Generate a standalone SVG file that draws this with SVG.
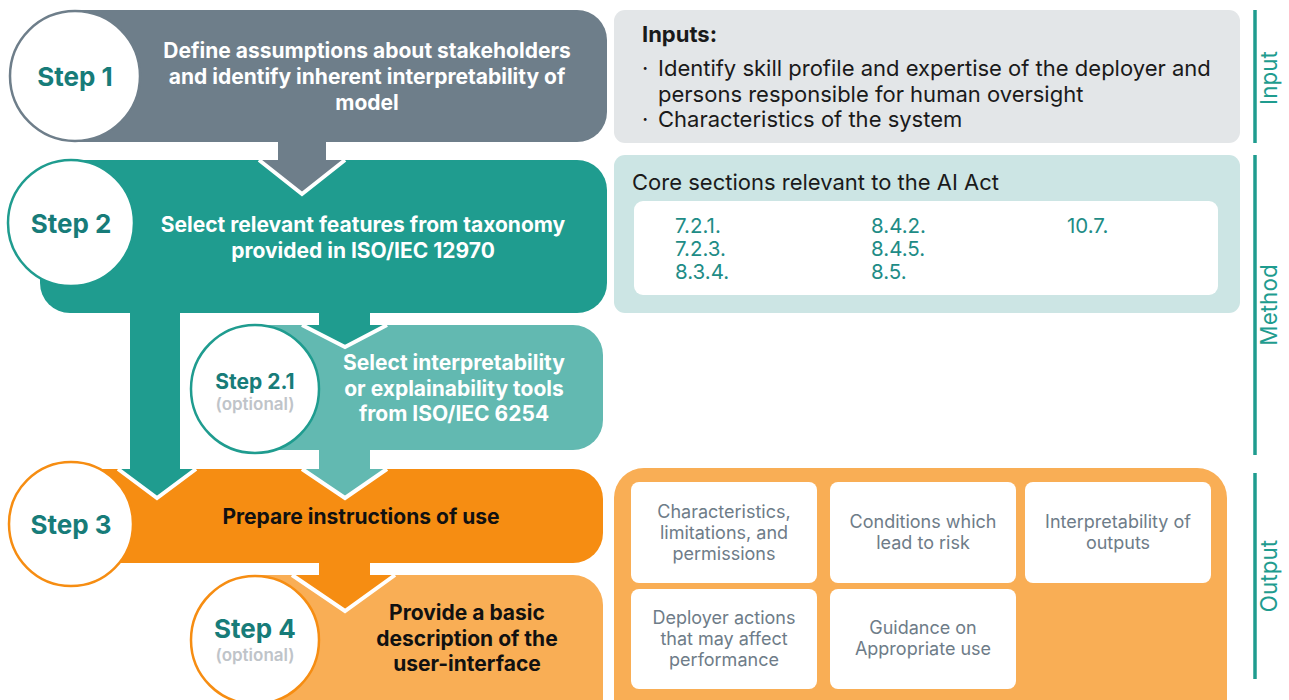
<svg xmlns="http://www.w3.org/2000/svg" width="1289" height="700" viewBox="0 0 1289 700">
<style>
.step{font-family:Inter,"Noto Sans",sans-serif;font-weight:700;fill:#177C79;text-anchor:middle}
.opt{font-family:Inter,"Noto Sans",sans-serif;font-weight:600;fill:#BFC4C9;text-anchor:middle;font-size:17px}
.bt{font-family:Inter,"Noto Sans",sans-serif;font-weight:700;font-size:21px;text-anchor:middle}
.w{fill:#ffffff}
.k{fill:#111111}
.rt{font-family:Inter,"Noto Sans",sans-serif;font-size:22px;fill:#1a1a1a}
.num{font-family:Inter,"Noto Sans",sans-serif;font-size:20.5px;fill:#1E8C86}
.card{fill:#ffffff}
.ct{font-family:Inter,"Noto Sans",sans-serif;font-size:18px;fill:#6E7C88;text-anchor:middle}
.lab{font-family:Inter,"Noto Sans",sans-serif;font-size:22.5px;fill:#1F9C8F;text-anchor:middle}
.vline{stroke:#1F9C8F;stroke-width:3.5}
.vee{fill:none;stroke:#ffffff;stroke-width:4;stroke-linejoin:miter}
</style>

<g id="step1-box"><path d="M75 10 H577 A30 30 0 0 1 607 40 V112 A30 30 0 0 1 577 142 H75 Z" fill="#6E7E8A"/>
<text class="bt w" x="367" y="58">Define assumptions about stakeholders</text>
<text class="bt w" x="367" y="84">and identify inherent interpretability of</text>
<text class="bt w" x="367" y="110">model</text></g>

<g id="step2-box"><rect x="40" y="160" width="567" height="153" rx="30" fill="#1F9C8F"/>
<text class="bt w" x="363" y="232">Select relevant features from taxonomy</text>
<text class="bt w" x="363" y="258">provided in ISO/IEC 12970</text></g>

<g id="step21-box"><path d="M262 325 H573 A30 30 0 0 1 603 355 V420 A30 30 0 0 1 573 450 H262 Z" fill="#62B9B1"/>
<text class="bt w" x="454" y="370">Select interpretability</text>
<text class="bt w" x="454" y="396">or explainability tools</text>
<text class="bt w" x="454" y="421">from ISO/IEC 6254</text></g>

<g id="step3-box"><path d="M71 469 H573 A30 30 0 0 1 603 499 V533 A30 30 0 0 1 573 563 H71 Z" fill="#F68D12"/>
<text class="bt k" x="361" y="524">Prepare instructions of use</text></g>

<g id="step4-box"><path d="M255 575 H573 A30 30 0 0 1 603 605 V700 H255 Z" fill="#F9AE55"/>
<text class="bt k" x="467" y="620">Provide a basic</text>
<text class="bt k" x="467" y="646">description of the</text>
<text class="bt k" x="467" y="671">user-interface</text></g>

<g id="connectors">
<rect x="278" y="140" width="48" height="21" fill="#6E7E8A"/>
<polygon points="260,160 344,160 302,193" fill="#6E7E8A"/>
<polyline class="vee" points="259,160 302,194 345,160"/>

<rect x="319" y="311" width="51" height="15" fill="#1F9C8F"/>
<polygon points="304,325 385,325 345,346" fill="#1F9C8F"/>
<polyline class="vee" points="302,325 345,347 387,325"/>

<rect x="130" y="311" width="50" height="159" fill="#1F9C8F"/>
<polygon points="120,469 194,469 157,497" fill="#1F9C8F"/>
<polyline class="vee" points="118,469 157,498 196,469"/>

<rect x="319" y="448" width="51" height="22" fill="#62B9B1"/>
<polygon points="304,469 385,469 345,497" fill="#62B9B1"/>
<polyline class="vee" points="302,469 345,498 387,469"/>

<rect x="319" y="561" width="51" height="15" fill="#F68D12"/>
<polygon points="294,575 393,575 345,610" fill="#F68D12"/>
<polyline class="vee" points="292,575 345,611 395,575"/>
</g>

<g id="step1"><circle cx="75" cy="76" r="65" fill="#ffffff" stroke="#6E7E8A" stroke-width="2.5"/>
<text class="step" x="75" y="86" font-size="26">Step 1</text></g>
<g id="step2"><circle cx="71" cy="223" r="63" fill="#ffffff" stroke="#1F9C8F" stroke-width="2.5"/>
<text class="step" x="71" y="233" font-size="26">Step 2</text></g>
<g id="step21"><circle cx="255" cy="389" r="64" fill="#ffffff" stroke="#1F9C8F" stroke-width="2.5"/>
<text class="step" x="255" y="389" font-size="21">Step 2.1</text>
<text class="opt" x="255" y="410">(optional)</text></g>
<g id="step3"><circle cx="71" cy="524" r="62" fill="#ffffff" stroke="#F68D12" stroke-width="2.5"/>
<text class="step" x="71" y="534" font-size="26">Step 3</text></g>
<g id="step4"><circle cx="255" cy="640" r="64" fill="#ffffff" stroke="#F68D12" stroke-width="2.5"/>
<text class="step" x="255" y="638" font-size="26">Step 4</text>
<text class="opt" x="255" y="661" font-size="19">(optional)</text></g>

<g id="input-panel"><rect x="614" y="10" width="626" height="133" rx="11" fill="#E3E6E8"/>
<text class="rt" x="642" y="42" font-weight="700" font-size="19.5">Inputs:</text>
<text class="rt" x="642" y="76">·</text>
<text class="rt" x="658" y="76">Identify skill profile and expertise of the deployer and</text>
<text class="rt" x="658" y="102">persons responsible for human oversight</text>
<text class="rt" x="642" y="127">·</text>
<text class="rt" x="658" y="127">Characteristics of the system</text></g>

<g id="method-panel"><rect x="614" y="155" width="626" height="158" rx="11" fill="#CCE5E4"/>
<text class="rt" x="632" y="190" font-size="21.5">Core sections relevant to the AI Act</text>
<rect x="634" y="201" width="584" height="94" rx="9" fill="#ffffff"/>
<text class="num" x="675" y="233">7.2.1.</text>
<text class="num" x="675" y="256">7.2.3.</text>
<text class="num" x="675" y="279">8.3.4.</text>
<text class="num" x="871" y="233">8.4.2.</text>
<text class="num" x="871" y="256">8.4.5.</text>
<text class="num" x="871" y="279">8.5.</text>
<text class="num" x="1067" y="233">10.7.</text></g>

<g id="output-panel"><rect x="614" y="468" width="613" height="262" rx="30" fill="#F9AE55"/>
<rect class="card" x="631" y="482" width="186" height="101" rx="8"/>
<rect class="card" x="830" y="482" width="186" height="101" rx="8"/>
<rect class="card" x="1025" y="482" width="186" height="101" rx="8"/>
<rect class="card" x="631" y="589" width="186" height="100" rx="8"/>
<rect class="card" x="830" y="589" width="186" height="100" rx="8"/>
<text class="ct" x="724" y="518">Characteristics,</text>
<text class="ct" x="724" y="539">limitations, and</text>
<text class="ct" x="724" y="560">permissions</text>
<text class="ct" x="923" y="528">Conditions which</text>
<text class="ct" x="923" y="549">lead to risk</text>
<text class="ct" x="1118" y="528">Interpretability of</text>
<text class="ct" x="1118" y="549">outputs</text>
<text class="ct" x="724" y="624">Deployer actions</text>
<text class="ct" x="724" y="645">that may affect</text>
<text class="ct" x="724" y="666">performance</text>
<text class="ct" x="923" y="634">Guidance on</text>
<text class="ct" x="923" y="655">Appropriate use</text></g>

<g id="labels">
<line class="vline" x1="1255" y1="10" x2="1255" y2="143"/>
<text class="lab" transform="translate(1277,78) rotate(-90)">Input</text>
<line class="vline" x1="1255" y1="155" x2="1255" y2="455"/>
<text class="lab" transform="translate(1277,305) rotate(-90)">Method</text>
<line class="vline" x1="1255" y1="473" x2="1255" y2="679"/>
<text class="lab" transform="translate(1277,576) rotate(-90)">Output</text>
</g>
</svg>
